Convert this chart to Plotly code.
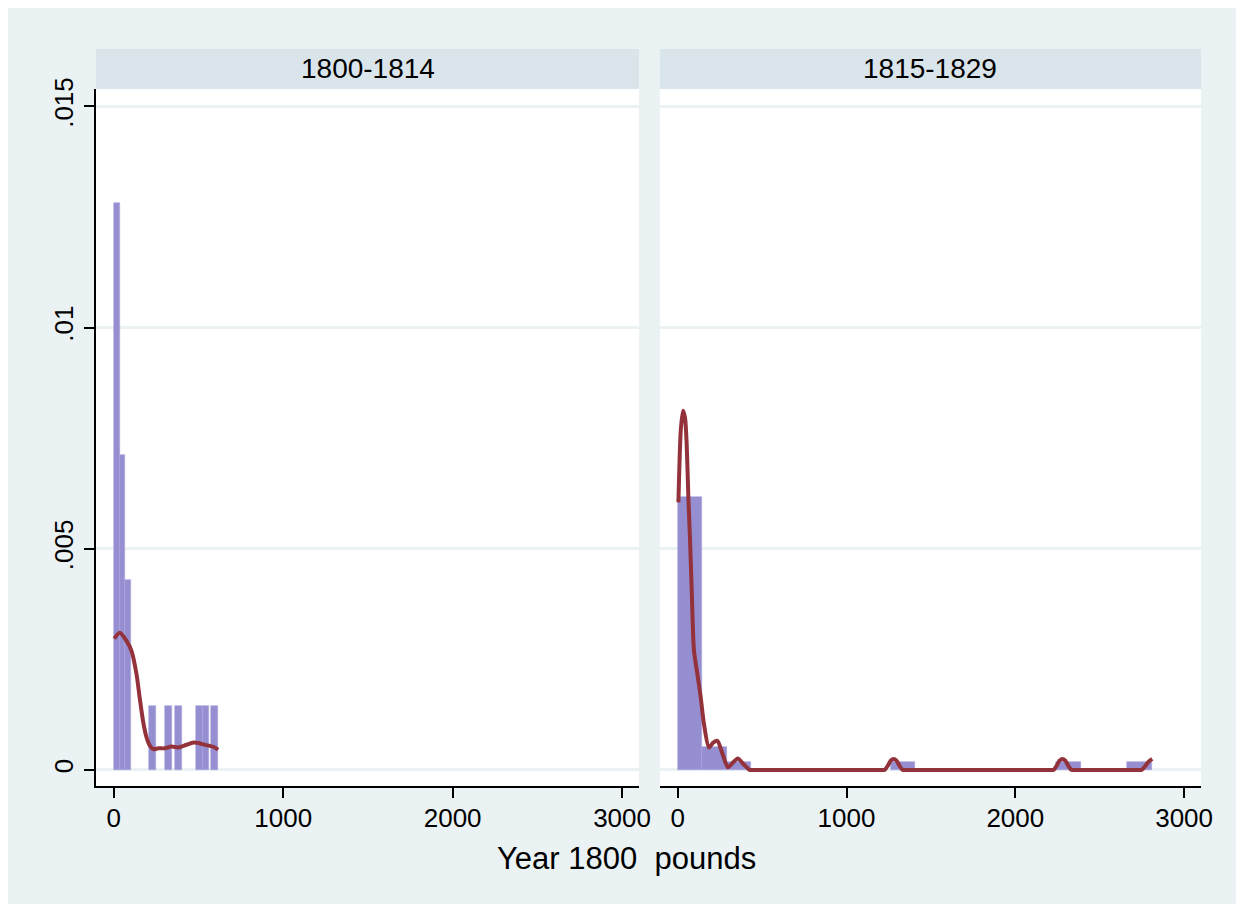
import plotly.graph_objects as go

# The page body keeps its default 8 px margin (the white band at top/left),
# so the figure fills the rest of the 1244x904 window.
OFF = 8
W, H = 1244 - OFF, 904 - OFF

# ---- data ----
panels = ["1800-1814", "1815-1829"]

# Histogram bins (pounds) and densities, panel 1800-1814
left_bin_lo = [0, 34, 68, 208, 303, 362, 484, 524, 573]
left_bin_hi = [34, 68, 102, 250, 341, 403, 524, 562, 616]
left_density = [0.01282, 0.00712, 0.0043, 0.00145, 0.00145, 0.00145, 0.00145, 0.00145, 0.00145]

# Kernel density, panel 1800-1814
left_kde_x = [3, 35, 75, 104, 134, 153, 173, 193, 213, 234, 262, 300, 340, 380, 429, 470, 500, 527, 560, 590, 616]
left_kde_y = [0.00297, 0.0031, 0.00292, 0.0027, 0.00217, 0.00163, 0.0011, 0.00074, 0.00055, 0.00047,
              0.00049, 0.00049, 0.00053, 0.00051, 0.00057, 0.00062, 0.00061, 0.00058, 0.00055, 0.00052, 0.00046]

# Histogram bins and densities, panel 1815-1829
right_bin_lo = [0, 146, 290, 1262, 2238, 2664]
right_bin_hi = [146, 290, 434, 1408, 2390, 2811]
right_density = [0.00616, 0.00053, 0.00017, 0.00017, 0.00017, 0.00017]

# Kernel density, panel 1815-1829
right_kde_x = [4, 8, 18, 31, 43, 53, 63, 73, 83, 96, 116, 136, 155, 185, 210, 235, 264, 297, 325, 356,
               390, 422, 430, 438, 900, 1212, 1220, 1228, 1245, 1262, 1279, 1296, 1313, 1330, 1338, 1346,
               1800, 2213, 2221, 2229, 2245, 2262, 2279, 2296, 2313, 2330, 2338, 2346, 2600, 2735, 2743,
               2751, 2770, 2790, 2811]
right_kde_y = [0.00605, 0.00661, 0.00767, 0.00812, 0.00797, 0.00737, 0.00616, 0.00519, 0.00406, 0.00271,
               0.00218, 0.00165, 0.00105, 0.00051, 0.00062, 0.00066, 0.00038, 0.00006, 0.00016, 0.00026,
               0.00013, 0.00001, 0.0, 0.0, 0.0, 0.0, 0.0, 0.00001, 0.0001, 0.00021, 0.00025, 0.00021,
               0.0001, 0.00001, 0.0, 0.0,
               0.0, 0.0, 0.0, 0.00001, 0.0001, 0.00021, 0.00025, 0.00021, 0.0001, 0.00001, 0.0, 0.0,
               0.0, 0.0, 0.0, 0.00001, 0.00009, 0.00019, 0.00025]

x_ticks = [0, 1000, 2000, 3000]
y_ticks = [0, 0.005, 0.01, 0.015]
y_ticklabels = ["0", ".005", ".01", ".015"]
x_title = "Year 1800\u00a0 pounds"

# ---- style ----
BG = "#EAF2F3"
STRIP = "#D9E5EB"
BAR = "#958FD2"
BAR_LINE = "#A9A4DC"
KDE = "#93323A"
FONT = "Liberation Sans, Arial, sans-serif"

# helpers: page pixel -> paper fraction
def px_x(p):
    return (p - OFF) / W

def px_y(p):
    return 1 - (p - OFF) / H

panel_px = [(96, 639), (660, 1201)]
plot_top, plot_bottom = 89, 785.7
strip_top = 49

fig = go.Figure()

for i, (lo, hi, dens, kx, ky) in enumerate([
    (left_bin_lo, left_bin_hi, left_density, left_kde_x, left_kde_y),
    (right_bin_lo, right_bin_hi, right_density, right_kde_x, right_kde_y),
]):
    xa = "x" if i == 0 else "x2"
    ya = "y" if i == 0 else "y2"
    centers = [(a + b) / 2 for a, b in zip(lo, hi)]
    widths = [b - a for a, b in zip(lo, hi)]
    fig.add_trace(go.Bar(
        x=centers, y=dens, width=widths, base=0,
        marker=dict(color=BAR, line=dict(color=BAR_LINE, width=0.6)),
        xaxis=xa, yaxis=ya, showlegend=False, hoverinfo="skip",
    ))
    fig.add_trace(go.Scatter(
        x=kx, y=ky, mode="lines",
        line=dict(color=KDE, width=4, shape="spline", smoothing=0.7),
        xaxis=xa, yaxis=ya, showlegend=False, hoverinfo="skip",
    ))

xrange = [-105, 3100]
yrange = [-0.000355, 0.015393]

common_x = dict(
    range=xrange, tickvals=x_ticks, ticktext=[str(v) for v in x_ticks],
    showline=True, linecolor="black", linewidth=1.5, mirror=False,
    ticks="outside", ticklen=11, tickwidth=1.5, tickcolor="black",
    showgrid=False, zeroline=False, automargin=False,
    ticklabelstandoff=-3,
    tickfont=dict(family=FONT, size=26, color="black"),
)
common_y = dict(
    range=yrange, tickvals=y_ticks, automargin=False,
    showgrid=True, gridcolor=BG, gridwidth=2.5, zeroline=False,
)

fig.update_layout(
    width=W, height=H, autosize=False,
    margin=dict(l=0, r=0, t=0, b=0, pad=0, autoexpand=False),
    paper_bgcolor=BG, plot_bgcolor="white",
    bargap=0,
    xaxis=dict(domain=[px_x(panel_px[0][0]), px_x(panel_px[0][1])], anchor="y", **common_x),
    xaxis2=dict(domain=[px_x(panel_px[1][0]), px_x(panel_px[1][1])], anchor="y2", **common_x),
    yaxis=dict(domain=[px_y(plot_bottom), px_y(plot_top)], anchor="x",
               ticktext=y_ticklabels, showline=True, linecolor="black", linewidth=1.5,
               ticks="outside", ticklen=10, tickwidth=1.5, tickcolor="black",
               tickangle=-90, ticklabelstandoff=1,
               tickfont=dict(family=FONT, size=26, color="black"), **common_y),
    yaxis2=dict(domain=[px_y(plot_bottom), px_y(plot_top)], anchor="x2",
                showticklabels=False, showline=False, ticks="", **common_y),
)

shapes = []
annotations = []
for (a, b), name in zip(panel_px, panels):
    shapes.append(dict(type="rect", xref="paper", yref="paper",
                       x0=px_x(a), x1=px_x(b), y0=px_y(plot_top), y1=px_y(strip_top),
                       fillcolor=STRIP, line=dict(width=0), layer="below"))
    annotations.append(dict(text=name, xref="paper", yref="paper",
                            x=px_x((a + b) / 2), y=px_y((strip_top + plot_top) / 2),
                            showarrow=False, xanchor="center", yanchor="middle",
                            font=dict(family=FONT, size=28, color="black")))

annotations.append(dict(text=x_title, xref="paper", yref="paper",
                        x=px_x(626), y=px_y(858), showarrow=False,
                        xanchor="center", yanchor="middle",
                        font=dict(family=FONT, size=31, color="black")))

fig.update_layout(shapes=shapes, annotations=annotations)

fig.write_html("out.html", config={"displayModeBar": False})
